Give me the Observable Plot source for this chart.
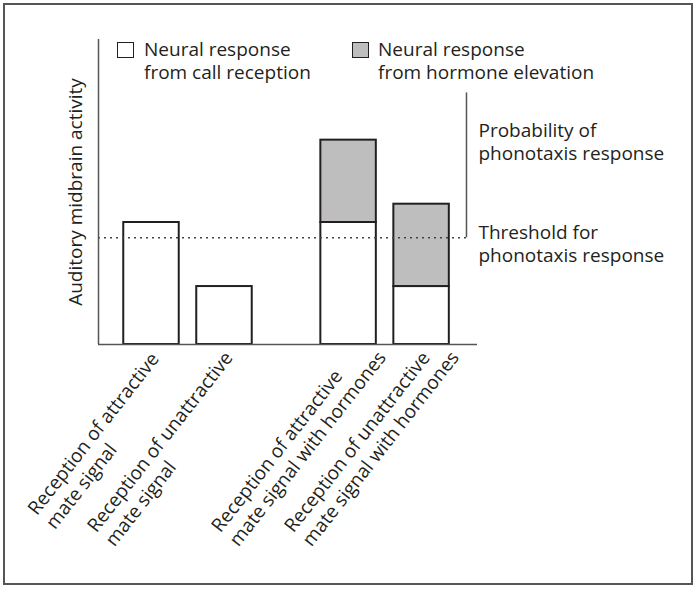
<!DOCTYPE html>
<html>
<head>
<meta charset="utf-8">
<script src="https://cdn.jsdelivr.net/npm/d3@7"></script>
<script src="https://cdn.jsdelivr.net/npm/@observablehq/plot@0.6"></script>
<style>
  body { margin: 0; background: #fff; }
  #wrap { position: relative; width: 698px; height: 589px; background: #fff; font-family: "Open Sans", sans-serif; color: #231f20; }
  #chart { position: absolute; left: 0; top: 0; }
  .border { position: absolute; left: 3px; top: 3px; width: 690px; height: 582px; box-sizing: border-box; border: 2px solid #555; pointer-events: none; }
  .sw { position: absolute; box-sizing: border-box; border: 1.5px solid #231f20; width: 17px; height: 16px; }
  .lt { position: absolute; font-size: 19px; line-height: 23px; white-space: pre; }
</style>
</head>
<body>
<div id="wrap">
  <div id="chart"></div>
  <div class="border"></div>
  <div id="legend"></div>
</div>
<script>
// ---- data ----
const categories = [
  "Reception of attractive\nmate signal",
  "Reception of unattractive\nmate signal",
  "Reception of attractive\nmate signal with hormones",
  "Reception of unattractive\nmate signal with hormones"
];
const groups = [0, 0, 1, 1];
const callResponse = [40, 19, 40, 19];
const hormoneResponse = [0, 0, 27, 27];
const threshold = 35;
const probabilityTop = 82.5;
const legendLabels = ["Neural response\nfrom call reception", "Neural response\nfrom hormone elevation"];
const yAxisLabel = "Auditory midbrain activity";
const annotations = [
  {text: "Probability of\nphonotaxis response", y: 66.6},
  {text: "Threshold for\nphonotaxis response", y: 33.1}
];

// ---- layout ----
const ink = "#231f20";
const grayFill = "#bebebe";
const fs = 19, lh = 1.2;
const groupGap = 0.7;          // extra slot spacing between the two groups
const halfBar = 0.38;          // half bar width in slot units
const xMin = -0.726, xMax = 4.466;
const slots = categories.map((c, i) => i + groupGap * groups[i]);
const bracketX = slots[slots.length - 1] + 0.615;
const angle = 52, rad = angle * Math.PI / 180;
const labelStart = {dx: -128, dy: 189};
const labelShift = [22, 0, 0, 0];

const rows = categories.map((c, i) => ({
  cat: c, slot: slots[i], call: callResponse[i], hormone: hormoneResponse[i]
}));

const firstBase = 0.71 * lh * fs;
const labelMarks = rows.map((r, i) => {
  const s = labelShift[i];
  const dx = labelStart.dx + s * Math.cos(rad) - firstBase * Math.sin(rad);
  const dy = labelStart.dy - s * Math.sin(rad) - firstBase * Math.cos(rad);
  return Plot.text([r], {
    x: "slot", y: () => 0, text: "cat",
    rotate: -angle, textAnchor: "start", lineAnchor: "top", lineHeight: lh,
    fontSize: fs, fill: ink, dx, dy
  });
});

const chart = Plot.plot({
  width: 698, height: 589,
  marginLeft: 98, marginRight: 221, marginTop: 39, marginBottom: 245,
  style: {background: "transparent", fontFamily: "'Open Sans', sans-serif", color: ink},
  x: {type: "linear", domain: [xMin, xMax], axis: null},
  y: {domain: [0, 100], axis: null},
  marks: [
    Plot.rectY(rows, {x1: d => d.slot - halfBar, x2: d => d.slot + halfBar, y1: () => 0, y2: "call",
      fill: "white", stroke: ink, strokeWidth: 2}),
    Plot.rectY(rows.filter(d => d.hormone > 0), {x1: d => d.slot - halfBar, x2: d => d.slot + halfBar,
      y1: "call", y2: d => d.call + d.hormone, fill: grayFill, stroke: ink, strokeWidth: 2}),
    Plot.ruleY([threshold], {x1: xMin, x2: bracketX, stroke: "#444", strokeWidth: 1.3, strokeDasharray: "2,4"}),
    Plot.ruleX([bracketX], {y1: threshold, y2: probabilityTop, stroke: "#555", strokeWidth: 1.5}),
    Plot.ruleX([xMin], {y1: 0, y2: 100, stroke: "#555", strokeWidth: 1.5}),
    Plot.ruleY([0], {x1: xMin, x2: xMax, stroke: "#555", strokeWidth: 1.5}),
    Plot.text(annotations, {x: () => bracketX, y: "y", text: "text", dx: 12, textAnchor: "start",
      lineAnchor: "middle", lineHeight: lh, fontSize: fs, fill: ink}),
    Plot.text([yAxisLabel], {frameAnchor: "left", rotate: -90, dx: -23, textAnchor: "middle",
      lineAnchor: "middle", fontSize: fs, fill: ink}),
    ...labelMarks
  ]
});
document.getElementById("chart").appendChild(chart);

// ---- legend ----
const legend = document.getElementById("legend");
const legendItems = [
  {fill: "white", sx: 117, tx: 144},
  {fill: grayFill, sx: 352, tx: 378}
];
legendItems.forEach((it, i) => {
  const sw = document.createElement("div");
  sw.className = "sw";
  sw.style.left = it.sx + "px"; sw.style.top = "42px"; sw.style.background = it.fill;
  legend.appendChild(sw);
  const t = document.createElement("div");
  t.className = "lt";
  t.style.left = it.tx + "px"; t.style.top = "38px";
  t.textContent = legendLabels[i];
  legend.appendChild(t);
});
</script>
</body>
</html>
